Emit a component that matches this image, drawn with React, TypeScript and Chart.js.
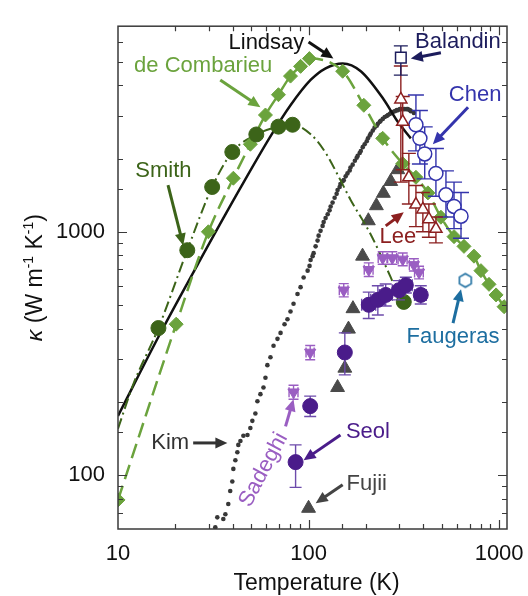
import React, { useEffect, useRef } from "react";
import { Chart, registerables } from "chart.js";

Chart.register(...registerables);

const FONT = '"Liberation Sans", Arial, Helvetica, sans-serif';

// ---- axes ----
const X_MIN = 10;
const X_MAX = 1100;
const Y_MIN = 60;
const Y_MAX = 7000;
const xTickLabels = [10, 100, 1000];
const yTickLabels = [100, 1000];
const xTitle = "Temperature (K)";

// ---- de Combarieu (diamonds + dashed line) ----
const deCombT = [10, 20.2, 29.8, 40.3, 49.5, 59.4, 69.5, 80.4, 90.8, 101, 151, 195, 245, 312, 366, 423, 495, 580, 654, 738, 803, 885, 964, 1062];
const deCombK = [79, 417, 1000, 1660, 2290, 3020, 3660, 4365, 4786, 5150, 4570, 3311, 2421, 1905, 1675, 1445, 1148, 955, 871, 794, 692, 608, 550, 492];

// ---- Smith (circles + dash-dot model) ----
const smithPtsT = [16.3, 23.1, 31.2, 39.8, 53.2, 69.5, 82.4, 316];
const smithPtsK = [402, 840, 1528, 2128, 2512, 2705, 2754, 515];
const smithLineT = [10, 12, 16.3, 23.1, 31.2, 39.8, 53.2, 69.5, 82.4, 103, 123, 147, 166, 212, 270, 280];
const smithLineK = [155, 235, 402, 840, 1528, 2128, 2512, 2705, 2754, 2512, 2109, 1630, 1355, 975, 649, 608];

// ---- Lindsay (solid line) ----
const lindsayT = [10, 16.6, 27, 43.9, 63.1, 80.4, 102.5, 122.9, 151, 188, 248, 294, 344];
const lindsayK = [175, 380, 766, 1514, 2466, 3311, 4207, 4699, 4920, 4571, 3499, 2831, 2421];

// ---- Kim (small dots) ----
const kimT = [32.4, 33.2, 35.7, 36.6, 37.9, 38.8, 39.8, 40.3, 41.3, 42.3, 42.8, 43.9, 45.5, 47.8, 49.5, 50.7, 52.6, 53.9, 55.9, 58, 59.4, 60.8, 63.1, 65.5, 68.7, 71.3, 74.8, 77.5, 80.4, 83.4, 87.5, 90.8, 94.2, 98.9, 101.2, 102.5, 105, 106.3, 108.9, 111.5, 112.9, 115.6, 118.5, 120, 122.9, 126, 128.9, 130.6, 133.7, 137, 140.4, 142, 145.6, 147, 151, 153, 156.6, 160, 164.4, 166, 170.4, 175, 178.9, 181, 185.5, 188, 192.4, 197, 202, 205, 209.5, 212, 217.3, 222, 228, 231, 236.5, 239, 245.2, 251, 257.3, 261, 266.9, 270, 276.8, 284, 290.5, 294, 301.3, 305, 312.5, 320, 328, 332, 340, 344, 357];
const kimK = [61, 67, 66, 69, 76, 86, 94, 106, 115, 124, 133, 138, 145, 146, 156, 167, 179, 201, 215, 229, 251, 283, 305, 340, 363, 384, 417, 437, 470, 506, 555, 592, 649, 692, 724, 766, 794, 817, 871, 920, 964, 1009, 1057, 1096, 1138, 1180, 1225, 1271, 1318, 1380, 1432, 1486, 1528, 1570, 1614, 1630, 1690, 1738, 1786, 1837, 1888, 1959, 2014, 2051, 2109, 2148, 2228, 2291, 2355, 2421, 2489, 2535, 2606, 2679, 2729, 2780, 2831, 2858, 2911, 2965, 2992, 3020, 3048, 3076, 3105, 3133, 3162, 3162, 3192, 3192, 3192, 3192, 3192, 3192, 3162, 3133, 3076];

// ---- Fujii (filled triangles) ----
const fujiiT = [100, 142, 155, 162, 171, 192, 206, 227, 247, 270, 294];
const fujiiK = [73, 229, 275, 398, 483, 794, 1110, 1280, 1440, 1610, 1800];

// ---- Seol (filled circles, error bars) ----
const seolT = [85.5, 102, 155, 207, 231, 254, 298, 324, 388];
const seolK = [113, 192, 319, 501, 525, 550, 575, 603, 550];
const seolLo = [89, 174, 258, 440, 455, 495, 525, 560, 505];
const seolHi = [133, 211, 384, 565, 600, 610, 630, 650, 600];
const seolXLo = [null, null, null, 190, 212, 235, 275, 300, 360];
const seolXHi = [null, null, null, 225, 250, 275, 320, 350, 415];

// ---- Sadeghi (down triangles, error bars) ----
const sadT = [83.4, 102, 153, 207, 245, 275, 312, 357, 380];
const sadK = [219, 319, 575, 698, 780, 780, 770, 731, 680];
const sadLo = [205, 298, 540, 655, 735, 735, 725, 690, 640];
const sadHi = [234, 341, 612, 745, 828, 828, 818, 775, 722];
const sadXLo = [79, 97, 145, 196, 232, 260, 295, 338, 360];
const sadXHi = [88, 107, 161, 218, 258, 290, 329, 376, 400];

// ---- Lee (open triangles, error bars) ----
const leeT = [305, 312, 336, 366, 398, 428, 466];
const leeK = [3499, 2831, 1675, 1294, 1236, 1127, 1028];
const leeLo = [1600, 1800, 1300, 1050, 1000, 950, 900];
const leeHi = [4800, 3600, 2100, 1550, 1450, 1300, 1150];

// ---- Chen (open circles, error bars) ----
const chenT = [366, 384, 407, 466, 526, 580, 631];
const chenK = [2754, 2421, 2089, 1738, 1419, 1271, 1159];
const chenLo = [2150, 1900, 1650, 1400, 1150, 1030, 940];
const chenHi = [3650, 3150, 2700, 2200, 1780, 1600, 1450];

// ---- Balandin (open square, error bar) ----
const balT = [305];
const balK = [5200];
const balLo = [4406];
const balHi = [5808];

// ---- Faugeras (open hexagon) ----
const faugT = [665];
const faugK = [631];

// ---- colours ----
const C = {
  deComb: "#6ba33d",
  smith: "#3c6419",
  lindsay: "#111111",
  kim: "#383838",
  fujii: "#4a4a4a",
  seol: "#4a1c8a",
  seolBar: "#6d4bab",
  sad: "#9a5ec2",
  lee: "#8c2020",
  chen: "#3434ac",
  bal: "#1c1c5c",
  faug: "#1d6ea0",
};

// ---- annotation labels (anchored in data coordinates) ----
type Ann = { text: string; color: string; tx: number; ty: number; a1: [number, number]; a2: [number, number]; rot?: number };
const annotations: Ann[] = [
  { text: "Lindsay", color: C.lindsay, tx: 60.1, ty: 5970, a1: [100, 6026], a2: [135, 5152] },
  { text: "de Combarieu", color: C.deComb, tx: 28, ty: 4786, a1: [34.4, 4207], a2: [55.9, 3251] },
  { text: "Smith", color: C.smith, tx: 17.3, ty: 1786, a1: [18.3, 1556], a2: [22, 879] },
  { text: "Balandin", color: C.bal, tx: 608, ty: 6026, a1: [495, 5445], a2: [344, 5152] },
  { text: "Chen", color: C.chen, tx: 748, ty: 3664, a1: [687, 3251], a2: [449, 2291] },
  { text: "Lee", color: C.lee, tx: 294, ty: 955, a1: [254, 1057], a2: [316, 1202] },
  { text: "Faugeras", color: C.faug, tx: 573, ty: 370, a1: [573, 421], a2: [631, 581] },
  { text: "Kim", color: "#333333", tx: 18.8, ty: 135.5, a1: [24.8, 135.5], a2: [37.5, 135.5] },
  { text: "Seol", color: C.seol, tx: 205, ty: 151, a1: [147, 146], a2: [94.2, 115] },
  { text: "Fujii", color: "#444444", tx: 202, ty: 92, a1: [151, 91.2], a2: [109, 76.6] },
  { text: "Sadeghi", color: C.sad, tx: 58, ty: 105, a1: [75.7, 158.5], a2: [83.4, 205], rot: -62 },
];

const pts = (t: number[], k: number[]) => t.map((v, i) => ({ x: v, y: k[i] }));
const bars = (lo: (number | null)[], hi: (number | null)[], xlo?: (number | null)[], xhi?: (number | null)[]) =>
  lo.map((l, i) => ({ yLo: l, yHi: hi[i], xLo: xlo ? xlo[i] : null, xHi: xhi ? xhi[i] : null }));

const isMajor = (v: number) => Math.abs(Math.log10(v) - Math.round(Math.log10(v))) < 1e-6;

function makeHex(color: string) {
  const c = document.createElement("canvas");
  c.width = 18;
  c.height = 18;
  const g = c.getContext("2d")!;
  g.strokeStyle = color;
  g.lineWidth = 1.6;
  g.fillStyle = "#ffffff";
  g.beginPath();
  for (let i = 0; i < 6; i++) {
    const a = -Math.PI / 2 + (i * Math.PI) / 3;
    const px = 9 + 6.8 * Math.cos(a);
    const py = 9 + 6.8 * Math.sin(a);
    if (i === 0) g.moveTo(px, py);
    else g.lineTo(px, py);
  }
  g.closePath();
  g.fill();
  g.stroke();
  return c;
}

function drawArrow(ctx: CanvasRenderingContext2D, x1: number, y1: number, x2: number, y2: number, color: string) {
  const ang = Math.atan2(y2 - y1, x2 - x1);
  const head = 12;
  const hw = 5.5;
  const bx = x2 - head * Math.cos(ang);
  const by = y2 - head * Math.sin(ang);
  ctx.save();
  ctx.strokeStyle = color;
  ctx.fillStyle = color;
  ctx.lineWidth = 3;
  ctx.lineCap = "butt";
  ctx.beginPath();
  ctx.moveTo(x1, y1);
  ctx.lineTo(bx + 2 * Math.cos(ang), by + 2 * Math.sin(ang));
  ctx.stroke();
  ctx.beginPath();
  ctx.moveTo(x2, y2);
  ctx.lineTo(bx + hw * Math.sin(ang), by - hw * Math.cos(ang));
  ctx.lineTo(bx - hw * Math.sin(ang), by + hw * Math.cos(ang));
  ctx.closePath();
  ctx.fill();
  ctx.restore();
}

const errorBarPlugin = {
  id: "errorBars",
  beforeDatasetDraw(chart: any, args: any) {
    const ds = chart.data.datasets[args.index];
    if (!ds.errorBars) return;
    const { ctx } = chart;
    const xs = chart.scales.x;
    const ys = chart.scales.y;
    const cap = ds.capWidth || 6;
    ctx.save();
    ctx.strokeStyle = ds.errorColor || ds.borderColor;
    ctx.lineWidth = 1.4;
    ds.errorBars.forEach((e: any, i: number) => {
      const p = ds.data[i];
      const px = xs.getPixelForValue(p.x);
      const py = ys.getPixelForValue(p.y);
      ctx.beginPath();
      if (e.yLo != null && e.yHi != null) {
        const y1 = ys.getPixelForValue(e.yLo);
        const y2 = ys.getPixelForValue(e.yHi);
        ctx.moveTo(px, y1);
        ctx.lineTo(px, y2);
        ctx.moveTo(px - cap, y1);
        ctx.lineTo(px + cap, y1);
        ctx.moveTo(px - cap, y2);
        ctx.lineTo(px + cap, y2);
      }
      if (e.xLo != null && e.xHi != null) {
        const x1 = xs.getPixelForValue(e.xLo);
        const x2 = xs.getPixelForValue(e.xHi);
        ctx.moveTo(x1, py);
        ctx.lineTo(x2, py);
        ctx.moveTo(x1, py - cap);
        ctx.lineTo(x1, py + cap);
        ctx.moveTo(x2, py - cap);
        ctx.lineTo(x2, py + cap);
      }
      ctx.stroke();
    });
    ctx.restore();
  },
};

const annotationPlugin = {
  id: "labels",
  afterDatasetsDraw(chart: any) {
    const { ctx } = chart;
    const xs = chart.scales.x;
    const ys = chart.scales.y;
    annotations.forEach((a) => {
      const ax1 = xs.getPixelForValue(a.a1[0]);
      const ay1 = ys.getPixelForValue(a.a1[1]);
      const ax2 = xs.getPixelForValue(a.a2[0]);
      const ay2 = ys.getPixelForValue(a.a2[1]);
      drawArrow(ctx, ax1, ay1, ax2, ay2, a.color);
      const tx = xs.getPixelForValue(a.tx);
      const ty = ys.getPixelForValue(a.ty);
      ctx.save();
      ctx.fillStyle = a.color;
      ctx.font = `22px ${FONT}`;
      ctx.textAlign = "center";
      ctx.textBaseline = "middle";
      ctx.translate(tx, ty);
      if (a.rot) ctx.rotate((a.rot * Math.PI) / 180);
      ctx.fillText(a.text, 0, 0);
      ctx.restore();
    });
  },
};

const framePlugin = {
  id: "frame",
  afterDraw(chart: any) {
    const { ctx, chartArea: a } = chart;
    const xs = chart.scales.x;
    const ys = chart.scales.y;
    ctx.save();
    ctx.strokeStyle = "#3a3a3a";
    ctx.lineWidth = 1.2;
    ctx.beginPath();
    xs.ticks.forEach((t: any) => {
      const v = t.value;
      if (v <= X_MIN || v >= X_MAX) return;
      const px = Math.round(xs.getPixelForValue(v)) + 0.5;
      const L = isMajor(v) ? 9 : 5;
      ctx.moveTo(px, a.bottom);
      ctx.lineTo(px, a.bottom - L);
      ctx.moveTo(px, a.top);
      ctx.lineTo(px, a.top + L);
    });
    ys.ticks.forEach((t: any) => {
      const v = t.value;
      if (v <= Y_MIN || v >= Y_MAX) return;
      const py = Math.round(ys.getPixelForValue(v)) + 0.5;
      const L = isMajor(v) ? 9 : 5;
      ctx.moveTo(a.left, py);
      ctx.lineTo(a.left + L, py);
      ctx.moveTo(a.right, py);
      ctx.lineTo(a.right - L, py);
    });
    ctx.stroke();
    ctx.lineWidth = 1.5;
    ctx.strokeRect(a.left, a.top, a.right - a.left, a.bottom - a.top);

    // x title
    ctx.fillStyle = "#111111";
    ctx.font = `23px ${FONT}`;
    ctx.textAlign = "center";
    ctx.textBaseline = "alphabetic";
    ctx.fillText(xTitle, (a.left + a.right) / 2 + 4, 590);

    // y title with superscripts
    const parts = [
      { t: "κ", f: `italic 23px ${FONT}`, dy: 0 },
      { t: " (W m", f: `23px ${FONT}`, dy: 0 },
      { t: "-1", f: `14px ${FONT}`, dy: -9 },
      { t: " K", f: `23px ${FONT}`, dy: 0 },
      { t: "-1", f: `14px ${FONT}`, dy: -9 },
      { t: ")", f: `23px ${FONT}`, dy: 0 },
    ];
    let total = 0;
    const widths = parts.map((p) => {
      ctx.font = p.f;
      const w = ctx.measureText(p.t).width;
      total += w;
      return w;
    });
    ctx.translate(42, (a.top + a.bottom) / 2);
    ctx.rotate(-Math.PI / 2);
    ctx.textAlign = "left";
    let cx = -total / 2;
    parts.forEach((p, i) => {
      ctx.font = p.f;
      ctx.fillText(p.t, cx, p.dy);
      cx += widths[i];
    });
    ctx.restore();
  },
};

export default function App() {
  const ref = useRef<HTMLCanvasElement | null>(null);

  useEffect(() => {
    document.body.style.margin = "0";
    const canvas = ref.current;
    if (!canvas) return;
    const hex = makeHex(C.faug);

    const chart = new Chart(canvas, {
      type: "scatter",
      data: {
        datasets: [
          {
            label: "Balandin",
            data: pts(balT, balK),
            pointStyle: "rect",
            pointRadius: 7.5,
            backgroundColor: "#ffffff",
            borderColor: C.bal,
            borderWidth: 1.5,
            errorBars: bars(balLo, balHi),
            errorColor: C.bal,
            capWidth: 7,
          } as any,
          {
            label: "Lee",
            data: pts(leeT, leeK),
            pointStyle: "triangle",
            pointRadius: 7,
            backgroundColor: "#ffffff",
            borderColor: C.lee,
            borderWidth: 1.5,
            errorBars: bars(leeLo, leeHi),
            errorColor: C.lee,
            capWidth: 7,
          } as any,
          {
            label: "Chen",
            data: pts(chenT, chenK),
            pointStyle: "circle",
            pointRadius: 7,
            backgroundColor: "#ffffff",
            borderColor: C.chen,
            borderWidth: 1.5,
            errorBars: bars(chenLo, chenHi),
            errorColor: C.chen,
            capWidth: 8,
          } as any,
          {
            label: "Faugeras",
            data: pts(faugT, faugK),
            pointStyle: hex,
            pointRadius: 7,
          } as any,
          {
            label: "Seol",
            data: pts(seolT, seolK),
            pointStyle: "circle",
            pointRadius: 7.5,
            backgroundColor: C.seol,
            borderColor: C.seol,
            borderWidth: 1,
            errorBars: bars(seolLo, seolHi, seolXLo, seolXHi),
            errorColor: C.seolBar,
            capWidth: 6,
          } as any,
          {
            label: "Sadeghi",
            data: pts(sadT, sadK),
            pointStyle: "triangle",
            pointRotation: 180,
            pointRadius: 6.5,
            backgroundColor: C.sad,
            borderColor: C.sad,
            borderWidth: 1,
            errorBars: bars(sadLo, sadHi, sadXLo, sadXHi),
            errorColor: C.sad,
            capWidth: 5,
          } as any,
          {
            label: "Smith data",
            data: pts(smithPtsT, smithPtsK),
            pointStyle: "circle",
            pointRadius: 7.5,
            backgroundColor: C.smith,
            borderColor: C.smith,
            borderWidth: 1,
          },
          {
            label: "de Combarieu",
            data: pts(deCombT, deCombK),
            showLine: true,
            borderColor: C.deComb,
            backgroundColor: C.deComb,
            borderWidth: 2.5,
            borderDash: [15, 7],
            cubicInterpolationMode: "monotone",
            pointStyle: "rectRot",
            pointRadius: 7,
            pointBorderWidth: 1,
            pointBorderColor: C.deComb,
          } as any,
          {
            label: "Smith model",
            data: pts(smithLineT, smithLineK),
            showLine: true,
            borderColor: C.smith,
            borderWidth: 2,
            borderDash: [11, 4, 2, 4],
            cubicInterpolationMode: "monotone",
            pointRadius: 0,
          } as any,
          {
            label: "Lindsay",
            data: pts(lindsayT, lindsayK),
            showLine: true,
            borderColor: C.lindsay,
            borderWidth: 2.5,
            cubicInterpolationMode: "monotone",
            pointRadius: 0,
          } as any,
          {
            label: "Fujii",
            data: pts(fujiiT, fujiiK),
            pointStyle: "triangle",
            pointRadius: 8,
            backgroundColor: C.fujii,
            borderColor: C.fujii,
            borderWidth: 1,
          },
          {
            label: "Kim",
            data: pts(kimT, kimK),
            pointStyle: "circle",
            pointRadius: 2.3,
            backgroundColor: C.kim,
            borderColor: C.kim,
            borderWidth: 0,
          },
        ],
      },
      options: {
        responsive: false,
        animation: false,
        events: [],
        layout: { padding: { top: 11, right: 21, left: 0, bottom: 0 } },
        plugins: { legend: { display: false }, tooltip: { enabled: false } },
        scales: {
          x: {
            type: "logarithmic",
            min: X_MIN,
            max: X_MAX,
            grid: { display: false, drawTicks: false },
            border: { display: false },
            ticks: {
              autoSkip: false,
              maxRotation: 0,
              padding: 12,
              color: "#111111",
              font: { family: FONT, size: 22 },
              callback: (v: any) => (xTickLabels.some((t) => Math.abs(t - Number(v)) < 1e-6) ? String(v) : ""),
            },
            afterFit: (s: any) => {
              s.height = 67;
            },
          },
          y: {
            type: "logarithmic",
            min: Y_MIN,
            max: Y_MAX,
            grid: { display: false, drawTicks: false },
            border: { display: false },
            ticks: {
              autoSkip: false,
              padding: 13,
              color: "#111111",
              font: { family: FONT, size: 22 },
              callback: (v: any) => (yTickLabels.some((t) => Math.abs(t - Number(v)) < 1e-6) ? String(v) : ""),
            },
            afterFit: (s: any) => {
              s.width = 118;
            },
          },
        },
      } as any,
      plugins: [errorBarPlugin, annotationPlugin, framePlugin],
    });

    return () => chart.destroy();
  }, []);

  return (
    <div style={{ width: 528, height: 596 }}>
      <canvas ref={ref} width={528} height={596} />
    </div>
  );
}
